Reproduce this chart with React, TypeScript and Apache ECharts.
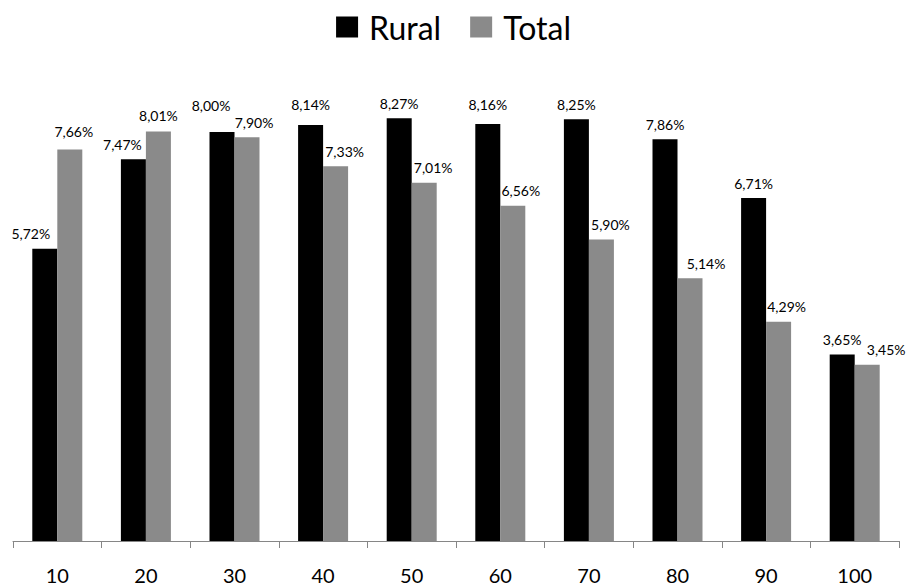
import React, { useEffect, useRef } from "react";
import * as echarts from "echarts";

const categories = ["10", "20", "30", "40", "50", "60", "70", "80", "90", "100"];
const rural = [5.72, 7.47, 8.0, 8.14, 8.27, 8.16, 8.25, 7.86, 6.71, 3.65];
const total = [7.66, 8.01, 7.9, 7.33, 7.01, 6.56, 5.9, 5.14, 4.29, 3.45];

// label nudges (Excel-style de-overlapping), pixels [dx, dy]
const ruralLabelNudge = [[-14, 0], [-11, 0], [-11, -12], [0, -5], [0, 0], [0, -4], [0, 0], [0, 0], [0, 0], [0, 0]];
const totalLabelNudge = [[4, -3], [0, -1], [7, 0], [9, 0], [9, 0], [8, 0], [9, 0], [16, 0], [8, 0], [19, 0]];

const FONT = "Lato, 'Open Sans', sans-serif";
const fmt = (v: number) => v.toFixed(2).replace(".", ",") + "%";

export default function App() {
  const ref = useRef<HTMLDivElement>(null);
  useEffect(() => {
    if (!ref.current) return;
    const chart = echarts.init(ref.current, undefined, { renderer: "svg" });
    const mk = (vals: number[], nudges: number[][]) =>
      vals.map((v, i) => ({ value: v, label: { offset: nudges[i] } }));
    const labelStyle = {
      show: true,
      position: "top" as const,
      distance: 8,
      color: "#000",
      fontSize: 14,
      fontFamily: FONT,
      formatter: (p: any) => fmt(p.value),
    };
    chart.setOption({
      animation: false,
      textStyle: { fontFamily: FONT },
      legend: {
        top: 6,
        left: "center",
        itemWidth: 22,
        itemHeight: 21,
        itemGap: 29,
        icon: "rect",
        textStyle: { fontSize: 32, color: "#000", fontFamily: FONT, padding: [0, 0, 0, 6] },
        data: ["Rural", "Total"],
      },
      grid: { left: 13, right: 8, top: 81, bottom: 45, containLabel: false },
      xAxis: {
        type: "category",
        data: categories,
        boundaryGap: true,
        axisLine: { lineStyle: { color: "#868686", width: 1 } },
        axisTick: { show: true, alignWithLabel: false, length: 7, lineStyle: { color: "#868686" } },
        axisLabel: { color: "#000", fontSize: 20, fontFamily: FONT, margin: 24 },
      },
      yAxis: { type: "value", min: 0, max: 9, show: false, splitLine: { show: false } },
      series: [
        {
          name: "Rural",
          type: "bar",
          data: mk(rural, ruralLabelNudge),
          barWidth: 25,
          barGap: "0%",
          itemStyle: { color: "#000000" },
          label: labelStyle,
        },
        {
          name: "Total",
          type: "bar",
          data: mk(total, totalLabelNudge),
          barWidth: 25,
          itemStyle: { color: "#8a8a8a" },
          label: labelStyle,
        },
      ],
    });
    return () => chart.dispose();
  }, []);
  return (
    <div
      ref={ref}
      style={{ position: "fixed", left: 0, top: 0, width: 907, height: 586, background: "#fff" }}
    />
  );
}
